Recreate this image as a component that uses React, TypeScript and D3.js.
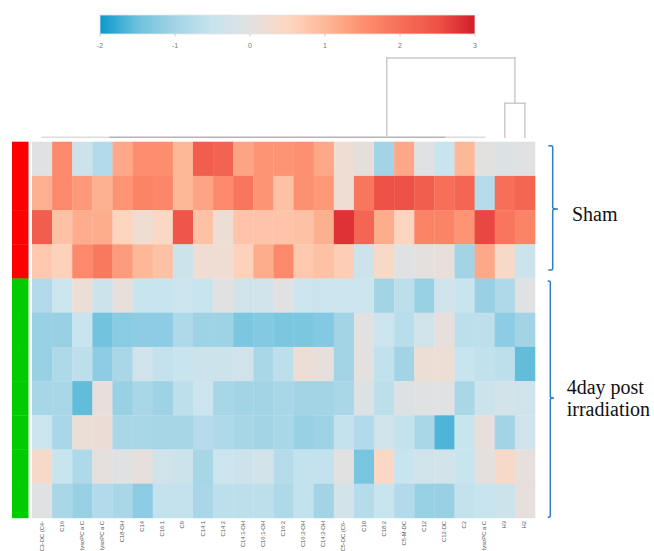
import React from "react";
import * as d3 from "d3";

const columns = [
  "C3-DC (C4-", "C16", "lysoPC a C", "lysoPC a C", "C18-OH", "C14", "C16:1", "C9",
  "C14:1", "C14:2", "C14:1-OH", "C16:1-OH", "C16:2", "C16:2-OH", "C14:2-OH",
  "C5-DC (C6-", "C10", "C18:2", "C5-M-DC", "C12", "C12-DC", "C2", "lysoPC a C", "H3", "H2",
];

const groups = ["Sham", "Sham", "Sham", "Sham", "4day", "4day", "4day", "4day", "4day", "4day", "4day"];

const row1 = [-0.05, 1.6, -0.4, -0.8, 1.2, 1.55, 1.55, 1.0, 2.3, 2.2, 1.25, 1.45, 1.45, 1.5, 1.2, 0.25, 0.08, -1.0, 1.2, -0.05, -0.5, 1.0, 0.02, -0.1, -0.02];
const row2 = [1.1, 1.6, 1.4, 1.1, 1.45, 1.7, 1.65, 1.0, 1.25, 1.6, 1.9, 1.45, 0.85, 1.5, 1.4, 0.25, 1.9, 2.5, 2.5, 2.3, 2.0, 2.15, -0.75, 2.0, 2.15];
const row3 = [2.3, 0.85, 1.15, 1.15, 0.55, 0.25, 0.45, 2.45, 0.85, 0.2, 0.8, 0.8, 0.8, 0.85, 1.1, 2.8, 2.15, 1.15, 0.55, 1.7, 1.7, 1.45, 2.6, 1.9, 1.7];
const row4 = [0.75, 0.6, 1.6, 1.85, 1.35, 1.0, 0.85, -0.4, 0.25, 0.25, 0.6, 1.15, 1.6, 0.75, 0.85, 0.65, -0.4, 0.4, -0.05, 0.05, 0.12, -1.0, 1.2, 0.4, -0.4];
const row5 = [-0.8, -0.45, 0.2, -0.4, 0.1, -0.5, -0.5, -0.45, -0.5, 0, -0.35, -0.35, 0, -0.45, -0.45, -0.45, -0.45, -1.0, -0.65, -1.1, -0.35, -0.5, -1.1, -0.85, -0.05];
const row6 = [-1.1, -1.1, -0.5, -1.45, -1.25, -1.2, -1.2, -0.85, -1.05, -1.05, -1.35, -1.3, -1.35, -1.35, -1.3, -1.0, 0, -0.45, -0.7, -0.35, 0.1, -0.65, -0.65, -1.2, -1.0];
const row7 = [-1.1, -0.85, -0.65, -1.2, -0.9, -0.35, -0.55, -0.5, -0.4, -0.4, -0.35, -0.9, -0.65, 0.2, 0.1, -1.0, 0.02, -0.6, -1.0, 0.2, 0.2, -0.5, -0.6, -0.65, -1.55];
const row8 = [-0.95, -0.9, -1.55, 0.1, -1.1, -0.9, -1.05, -0.65, -0.45, -0.95, -1.0, -1.0, -0.9, -1.0, -1.0, -0.9, -0.1, -0.65, -0.1, -0.05, -0.02, -0.9, -0.4, -0.3, -0.35];
const row9 = [-0.45, -0.9, 0.15, 0.18, -0.9, -0.9, -0.95, -0.95, -0.75, -0.85, -0.95, -1.0, -0.9, -1.1, -1.05, -0.55, -0.8, -0.35, -0.55, -0.9, -1.65, -0.5, 0.1, -1.0, -0.35];
const row10 = [0.4, -0.5, -0.85, 0.07, -0.05, 0.1, -0.35, -0.4, -0.95, -0.45, -0.4, -0.3, -0.75, -0.55, -0.55, 0, -1.4, 0.45, -0.5, -0.35, -0.3, -0.5, 0.05, 0.4, 0.1];
const row11 = [-0.05, -0.9, -1.1, -0.8, -0.9, -1.2, -0.55, -0.55, -0.9, -0.65, -0.65, -0.65, -0.85, -0.55, -1.0, -0.3, -0.75, -0.5, -0.8, -1.1, -1.1, -0.55, -0.5, -0.4, 0.1];
const rows = [row1, row2, row3, row4, row5, row6, row7, row8, row9, row10, row11];

const legendTicks = [-2, -1, 0, 1, 2, 3];
const colorStops = [-2, -1.5, -1, -0.5, 0, 0.5, 1, 1.5, 2, 2.5, 3];
const colorRange = ["#0a99cc", "#6cc1dd", "#a3d4e6", "#c8e4ef", "#e1e1e1", "#fdd7c2", "#fdb898", "#fd9070", "#f76f58", "#ee5246", "#d31c2c"];

// dendrogram segments: [colPos1, height1, colPos2, height2, tone]
const dendroLinks: [number, number, number, number, string][] = [
  [0.5, 0, 3.9, 0, "light"],
  [3.9, 0, 20.55, 0, "dark"],
  [20.55, 0, 22.5, 0, "light"],
  [17.63, 0, 17.63, 10, "mid"],
  [17.63, 10, 24, 10, "mid"],
  [24, 10, 24, 4.3, "mid"],
  [23.5, 4.3, 24.5, 4.3, "mid"],
  [23.5, 4.3, 23.5, 0, "mid"],
  [24.5, 4.3, 24.5, 0, "mid"],
];

export default function App() {
  const W = 654, H = 551;
  const left = 32, right = 535, top = 141.7, bottom = 517.9;
  const x = d3.scaleBand<number>().domain(d3.range(columns.length)).range([left, right]).padding(0);
  const y = d3.scaleBand<number>().domain(d3.range(rows.length)).range([top, bottom]).padding(0);
  const color = d3.scaleLinear<string>().domain(colorStops).range(colorRange).interpolate(d3.interpolateRgb).clamp(true);
  const colPos = d3.scaleLinear().domain([0, columns.length]).range([left, right]);
  const dH = d3.scaleLinear().domain([0, 10]).range([137.3, 58]);

  const lx0 = 100, lx1 = 475, ly = 15, lh = 19;
  const lscale = d3.scaleLinear().domain([-2, 3]).range([lx0, lx1]);
  const gradStops = d3.range(0, 51).map((i) => -2 + i * 0.1);

  const groupColor: Record<string, string> = { Sham: "#ff0000", "4day": "#00cc00" };
  const toneColor: Record<string, string> = { light: "#dcdcdc", dark: "#b4b4b4", mid: "#c8c8c8" };

  const blue = "#2f7fc8";
  const shamTop = 145.7, shamBot = 270, shamMid = 209;
  const irrTop = 281, irrBot = 517.3, irrMid = 398;
  const bracket = (t: number, b: number, m: number, xl: number, xv: number, xt: number) =>
    `M${xl},${t} L${xv - 1.5},${t} Q${xv},${t} ${xv},${t + 1.5} L${xv},${m - 1.5} Q${xv},${m} ${xt},${m} Q${xv},${m} ${xv},${m + 1.5} L${xv},${b - 1.5} Q${xv},${b} ${xv - 1.5},${b} L${xl},${b}`;

  return (
    <svg width={W} height={H} style={{ position: "absolute", left: 0, top: 0, background: "#fff" }}>
      <defs>
        <linearGradient id="lg" x1="0" x2="1" y1="0" y2="0">
          {gradStops.map((v, i) => (
            <stop key={i} offset={`${(i / 50) * 100}%`} stopColor={color(v)} />
          ))}
        </linearGradient>
      </defs>
      <rect x="0" y="0" width={W} height={H} fill="#fff" />
      {/* legend */}
      <rect x={lx0} y={ly} width={lx1 - lx0} height={lh} fill="url(#lg)" stroke="#e6e6e6" strokeWidth={0.8} />
      {legendTicks.map((t) => (
        <g key={t}>
          <line x1={lscale(t)} x2={lscale(t)} y1={ly + lh} y2={ly + lh + 2.5} stroke="#bbb" strokeWidth={0.8} />
          <text x={lscale(t)} y={48} fontSize={7} fill="#777" textAnchor="middle" fontFamily="Liberation Sans, Arial, sans-serif">
            {t}
          </text>
        </g>
      ))}
      {/* dendrogram */}
      {dendroLinks.map((s, i) => (
        <line key={i} x1={colPos(s[0])} y1={dH(s[1])} x2={colPos(s[2])} y2={dH(s[3])} stroke={toneColor[s[4]]} strokeWidth={1.4} strokeLinecap="square" />
      ))}
      {/* group bar */}
      {groups.map((g, i) => (
        <rect key={i} x={12} y={y(i)} width={16.5} height={y.bandwidth() + 0.3} fill={groupColor[g]} />
      ))}
      {/* heatmap */}
      {rows.map((r, ri) =>
        r.map((v, ci) => (
          <rect key={`${ri}-${ci}`} x={x(ci)} y={y(ri)} width={x.bandwidth() + 0.3} height={y.bandwidth() + 0.3} fill={color(v)} />
        ))
      )}
      {/* column labels */}
      {columns.map((c, i) => {
        const cx = (x(i) as number) + x.bandwidth() / 2;
        return (
          <text key={i} transform={`translate(${cx},${521}) rotate(-90)`} fontSize={5.8} fill="#555" textAnchor="end" dominantBaseline="middle" fontFamily="Liberation Sans, Arial, sans-serif">
            {c}
          </text>
        );
      })}
      {/* brackets */}
      <path d={bracket(shamTop, shamBot, shamMid, 548.3, 552.7, 558)} fill="none" stroke={blue} strokeWidth={1.5} />
      <path d={bracket(irrTop, irrBot, irrMid, 547.7, 550.3, 554)} fill="none" stroke={blue} strokeWidth={1.5} />
      <text x={572} y={220.5} fontSize={20} fontFamily="Liberation Serif, Times New Roman, serif" fill="#111">Sham</text>
      <text x={566.7} y={394} fontSize={20} fontFamily="Liberation Serif, Times New Roman, serif" fill="#111">4day post</text>
      <text x={566.7} y={416} fontSize={20} fontFamily="Liberation Serif, Times New Roman, serif" fill="#111">irradiation</text>
    </svg>
  );
}
